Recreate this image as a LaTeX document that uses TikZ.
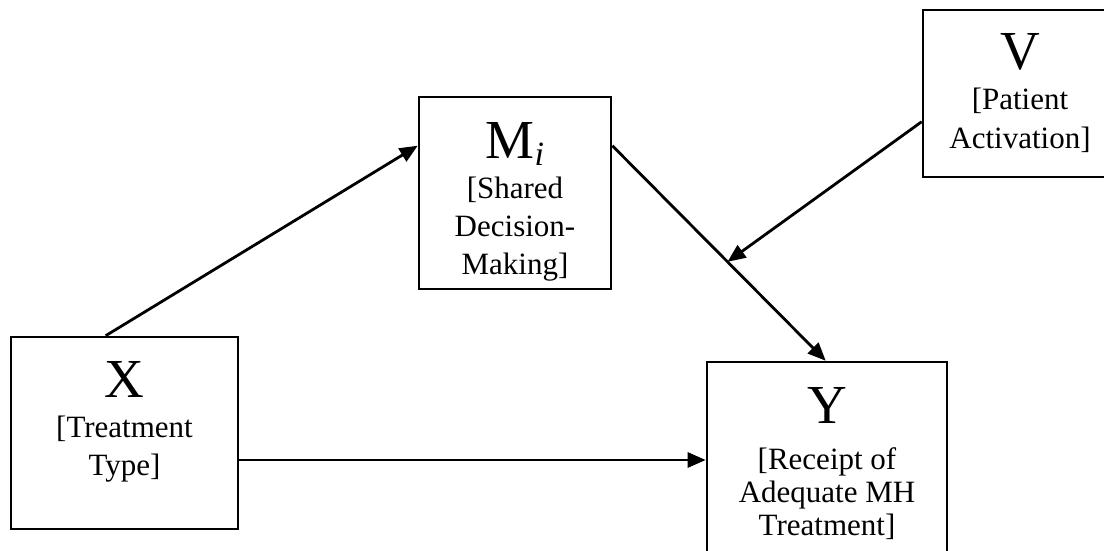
\documentclass[tikz,border=0pt]{standalone}
\usepackage{fontspec}
\setmainfont{Liberation Serif}
\usetikzlibrary{arrows.meta}
\begin{document}
\begin{tikzpicture}[x=1pt,y=-1pt,
  box/.style={draw, line width=2.6pt, rectangle, inner sep=0pt},
  lbl/.style={anchor=north, inner sep=0pt, align=center},
  arr/.style={line width=2.8pt, -{Triangle[length=18pt,width=15pt]}}]
\clip (0,0) rectangle (1104,550);
% boxes
\node[box, minimum width=227pt, minimum height=192pt] (x) at (124.5,433) {};
\node[box, minimum width=192pt, minimum height=192pt] (m) at (515,193) {};
\node[box, minimum width=227pt, minimum height=167pt] (v) at (1036.5,93.5) {};
\node[box, minimum width=240pt, minimum height=240pt] (y) at (827,482) {};
% labels
\node[lbl, font=\fontsize{31}{38}\selectfont] (xt) at (124.5,361)
  {{\fontsize{55}{55}\selectfont X}\\[2pt][Treatment\\Type]};
\node[lbl, font=\fontsize{31}{38}\selectfont] (mt) at (515,122)
  {{\fontsize{55}{55}\selectfont M\raisebox{-7pt}[0pt][0pt]{\fontsize{34}{34}\selectfont\itshape i}}\\[2pt][Shared\\Decision-\\Making]};
\node[lbl, font=\fontsize{31}{39}\selectfont] (vt) at (1020,33)
  {{\fontsize{55}{55}\selectfont V}\\[1pt][Patient\\Activation]};
\node[lbl, font=\fontsize{31}{33}\selectfont] (yt) at (827,387)
  {{\fontsize{55}{55}\selectfont Y}\\[13pt][Receipt of\\Adequate MH\\Treatment]};
% connectors
\draw[arr] ([xshift=96pt]x.north west) -- ([yshift=-50pt]m.north west);
\draw[arr] ([yshift=-27pt]x.east) -- ([yshift=-27pt]x.east -| y.west);
\draw[arr] ([yshift=-50pt]m.north east) -- coordinate[pos=0.54] (mid) ([xshift=120pt]y.north west);
\draw[arr] ([yshift=-113pt]v.north west) -- (mid);
\end{tikzpicture}
\end{document}
